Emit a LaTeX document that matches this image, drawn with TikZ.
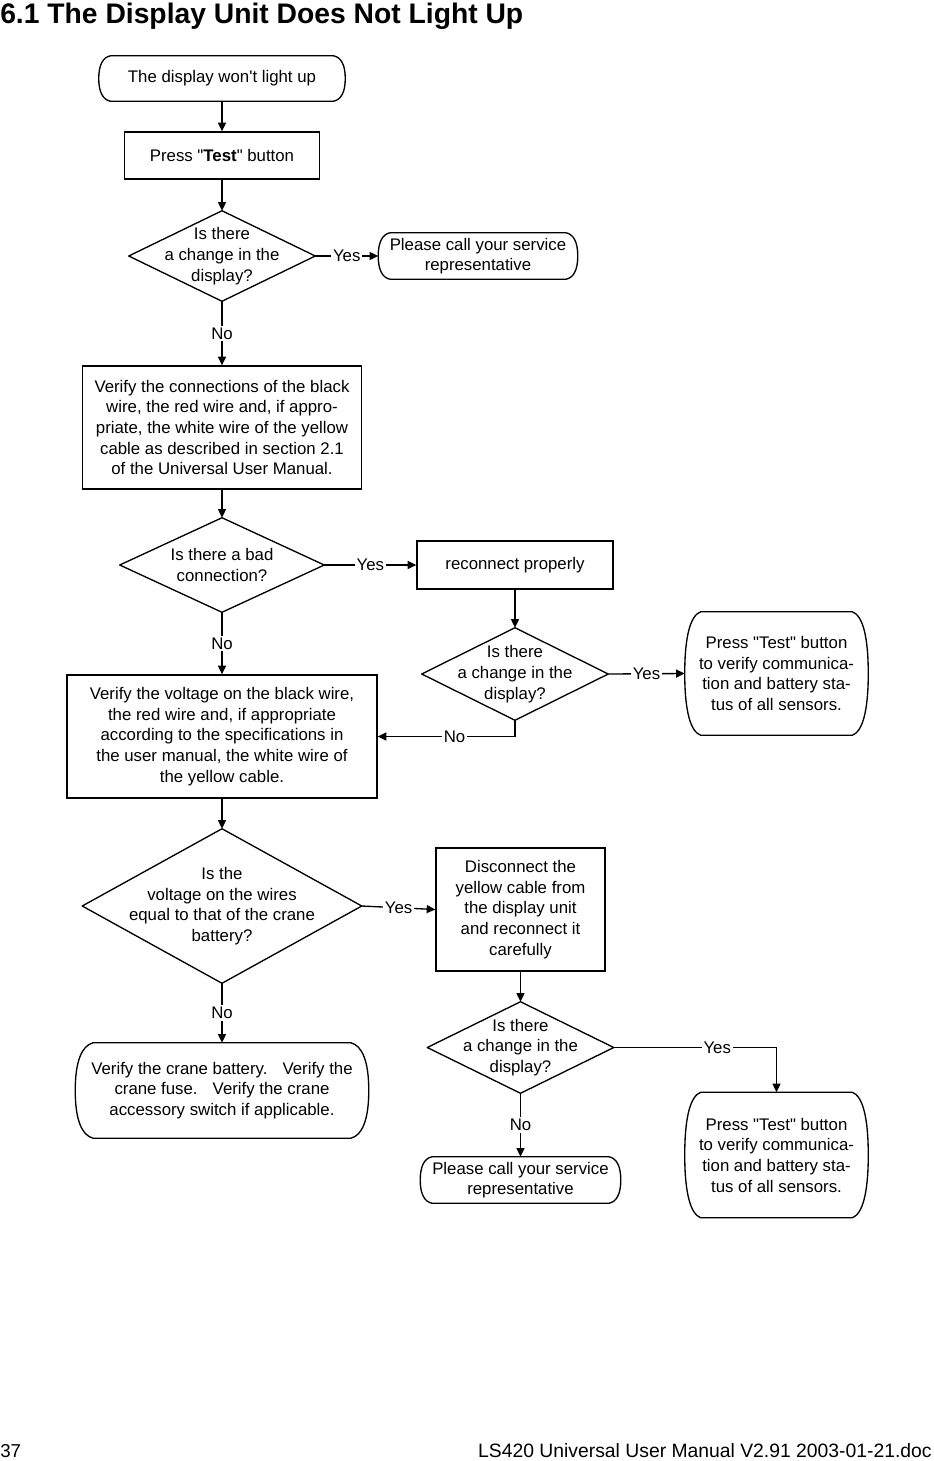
\documentclass[tikz,border=0pt]{standalone}
\usepackage{fontspec}
\setmainfont{Liberation Sans}
\usetikzlibrary{arrows.meta,calc}
\def\pxu{0.75pt}
\def\qd{\textquotedbl}
\newcommand\termoutline[2]{%
  \draw[outline] let \p1=(#1.north west), \p2=(#1.south east) in
    ({\x1+#2}, \y1) -- ({\x2-#2}, \y1)
    .. controls ({\x2-0.35*#2}, {\y1-0.03*(\y1-\y2)}) and (\x2, {(\y1+\y2)/2+0.3*(\y1-\y2)}) .. (\x2, {(\y1+\y2)/2})
    .. controls (\x2, {(\y1+\y2)/2-0.3*(\y1-\y2)}) and ({\x2-0.35*#2}, {\y2+0.03*(\y1-\y2)}) .. ({\x2-#2}, \y2)
    -- ({\x1+#2}, \y2)
    .. controls ({\x1+0.35*#2}, {\y2+0.03*(\y1-\y2)}) and (\x1, {(\y1+\y2)/2-0.3*(\y1-\y2)}) .. (\x1, {(\y1+\y2)/2})
    .. controls (\x1, {(\y1+\y2)/2+0.3*(\y1-\y2)}) and ({\x1+0.35*#2}, {\y1-0.03*(\y1-\y2)}) .. ({\x1+#2}, \y1)
    -- cycle;}
\newcommand\diaoutline[1]{%
  \draw[outline] (#1.north) -- (#1.east) -- (#1.south) -- (#1.west) -- cycle;}
\begin{document}
\begin{tikzpicture}[x=0.75pt,y=-0.75pt,
  base/.style={inner sep=0pt, align=center, font=\fontsize{12.6}{15.5}\selectfont, rectangle},
  box/.style={base, draw, line width=1pt},
  term/.style={base},
  dia/.style={base},
  outline/.style={line width=1pt, line join=round},
  arr/.style={line width=1pt, -{Triangle[length=6.5pt,width=6pt]}},
  lab/.style={fill=white, inner sep=1.3pt, font=\fontsize{12.6}{14}\selectfont},
  sz/.style n args={2}{minimum width=#1*\pxu, minimum height=#2*\pxu}]
\useasboundingbox (0,0) rectangle (933,1461);

\node[anchor=base west, inner sep=0pt, font=\bfseries\fontsize{21.2}{25}\selectfont] (title) at (0,23) {6.1 The Display Unit Does Not Light Up};

\node[term, sz={246}{45}] (t1) at (222,78.5) {The display won\textquotesingle t light up};
\node[box, sz={195}{47}] (b0) at (222,155.5) {Press \qd\textbf{Test}\qd\ button};
\node[dia, sz={186}{90}] (d1) at (222,256) {Is there\\a change in the\\display?};
\node[term, sz={199}{46}] (t2) at (478,256) {Please call your service\\representative};
\node[box, sz={279}{123}] (b1) at (222,427.5) {Verify the connections of the black\\wire, the red wire and, if appro-\\priate, the white wire of the yellow\\cable as described in section 2.1\\of the Universal User Manual.};
\node[dia, sz={204}{94}] (d2) at (222,565) {Is there a bad\\connection?};
\node[box, sz={196}{48}] (r1) at (515,565) {reconnect properly};
\node[dia, sz={186}{92}] (d3) at (515,674) {Is there\\a change in the\\display?};
\node[term, sz={183}{123}] (t3) at (776.5,673.5) {Press \qd Test\qd\ button\\to verify communica-\\tion and battery sta-\\tus of all sensors.};
\node[box, sz={310}{123}] (b3) at (222,736.5) {Verify the voltage on the black wire,\\the red wire and, if appropriate\\according to the specifications in\\the user manual, the white wire of\\the yellow cable.};
\node[dia, sz={279}{154}] (d4) at (222,906) {Is the\\voltage on the wires\\equal to that of the crane\\battery?};
\node[box, sz={169}{123}] (b4) at (520.5,909.5) {Disconnect the\\yellow cable from\\the display unit\\and reconnect it\\carefully};
\node[term, sz={293}{95}] (t4) at (222,1090.5) {Verify the crane battery.\hspace{0.9em}Verify the\\crane fuse.\hspace{0.9em}Verify the crane\\accessory switch if applicable.};
\node[dia, sz={186}{91}] (d5) at (520.5,1047.5) {Is there\\a change in the\\display?};
\node[term, sz={183}{125}] (t5) at (776.5,1155) {Press \qd Test\qd\ button\\to verify communica-\\tion and battery sta-\\tus of all sensors.};
\node[term, sz={200}{46}] (t6) at (520.5,1180) {Please call your service\\representative};

\termoutline{t1}{9pt}
\termoutline{t2}{9pt}
\termoutline{t3}{12pt}
\termoutline{t4}{13.5pt}
\termoutline{t5}{12pt}
\termoutline{t6}{9pt}
\diaoutline{d1}
\diaoutline{d2}
\diaoutline{d3}
\diaoutline{d4}
\diaoutline{d5}

\draw[arr] (t1.south) -- (b0.north);
\draw[arr] (b0.south) -- (d1.north);
\draw[arr] (d1.east) -- node[lab] {Yes} (t2.west);
\draw[arr] (d1.south) -- node[lab] {No} (b1.north);
\draw[arr] (b1.south) -- (d2.north);
\draw[arr] (d2.east) -- node[lab] {Yes} (r1.west);
\draw[arr] (d2.south) -- node[lab] {No} (b3.north);
\draw[arr] (r1.south) -- (d3.north);
\draw[arr] (d3.east) -- node[lab] {Yes} (t3.west);
\draw[arr] (d3.south) |- node[lab, pos=0.72] {No} (b3.east);
\draw[arr] (b3.south) -- (d4.north);
\draw[arr] (d4.east) -- node[lab] {Yes} (b4.west);
\draw[arr] (d4.south) -- node[lab] {No} (t4.north);
\draw[arr] (b4.south) -- (d5.north);
\draw[arr] (d5.east) -| node[lab, pos=0.318] {Yes} (t5.north);
\draw[arr] (d5.south) -- node[lab] {No} (t6.north);

\node[anchor=base west, inner sep=0pt, font=\fontsize{14}{16}\selectfont] (page) at (0,1457) {37};
\node[anchor=base east, inner sep=0pt, font=\fontsize{14.5}{16}\selectfont] (footer) at (932,1457) {LS420 Universal User Manual V2.91 2003-01-21.doc};
\end{tikzpicture}
\end{document}
